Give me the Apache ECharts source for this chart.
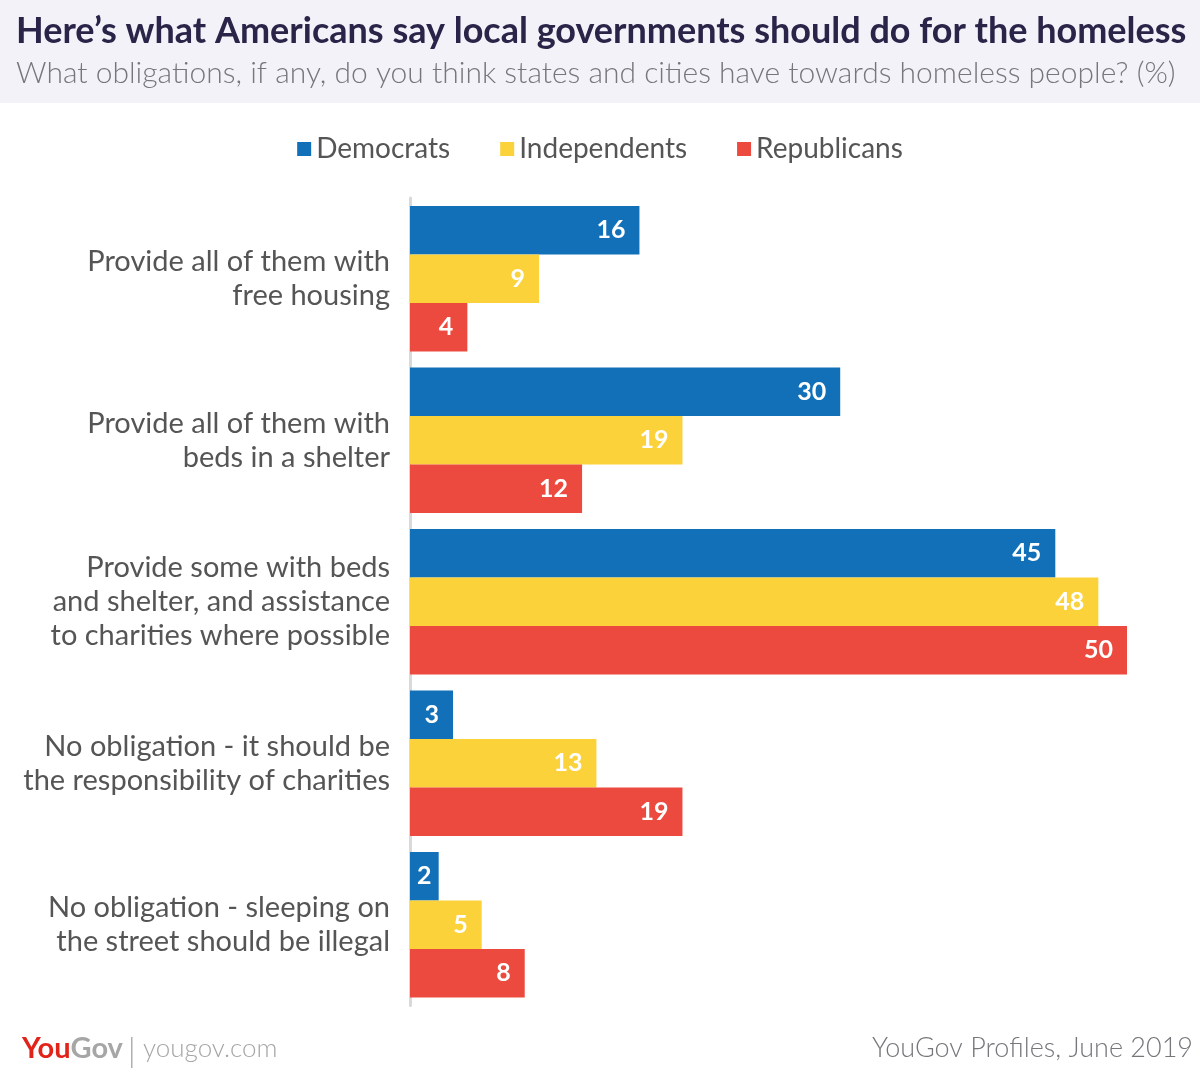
<!DOCTYPE html>
<html><head><meta charset="utf-8">
<script src="https://cdn.jsdelivr.net/npm/echarts@6/dist/echarts.min.js"></script>
<style>html,body{margin:0;padding:0;background:#fff}#c{width:1200px;height:1079px}</style>
</head><body><div id="c"></div>
<script>
const categories = [
  'Provide all of them with\nfree housing',
  'Provide all of them with\nbeds in a shelter',
  'Provide some with beds\nand shelter, and assistance\nto charities where possible',
  'No obligation - it should be\nthe responsibility of charities',
  'No obligation - sleeping on\nthe street should be illegal'
];
const seriesNames = ['Democrats', 'Independents', 'Republicans'];
const democrats = [16, 30, 45, 3, 2];
const independents = [9, 19, 48, 13, 5];
const republicans = [4, 12, 50, 19, 8];
const colors = ['#1170b8', '#fcd23a', '#ec4a3f'];

const chart = echarts.init(document.getElementById('c'));
const labelCfg = {show: true, position: 'insideRight', distance: 14, color: '#fff',
  fontFamily: 'Lato', fontWeight: 'bold', fontSize: 25};
chart.setOption({
  animation: false,
  color: colors,
  graphic: [
    {type: 'rect', left: 0, top: 0, shape: {width: 1200, height: 103}, style: {fill: '#f3f2f9'}, z: -1},
    {type: 'text', left: 16, top: 13, style: {text: 'Here’s what Americans say local governments should do for the homeless',
      font: 'bold 36px Lato', fill: '#2a2548'}},
    {type: 'text', left: 16, top: 58, style: {text: 'What obligations, if any, do you think states and cities have towards homeless people? (%)',
      font: '300 30px Lato', fill: '#77767b'}},
    {type: 'text', left: 22, top: 1034, style: {rich: {a: {fill: '#e2231a', font: 'bold 29px Lato'}, b: {fill: '#a6a6a6', font: 'bold 29px Lato'}},
      text: '{a|You}{b|Gov}'}},
    {type: 'rect', left: 131, top: 1037, shape: {width: 1.5, height: 31}, style: {fill: '#b0b0b0'}},
    {type: 'text', left: 143, top: 1036, style: {text: 'yougov.com', font: '300 26px Lato', fill: '#a6a6a6'}},
    {type: 'text', right: 7, top: 1035, style: {text: 'YouGov Profiles, June 2019', font: '300 27px Lato', fill: '#77767b'}}
  ],
  legend: {
    top: 130, left: 'center', itemWidth: 14, itemHeight: 14, itemGap: 50, icon: 'rect',
    textStyle: {fontFamily: 'Lato', fontSize: 28, color: '#555'},
    data: seriesNames
  },
  grid: {left: 410, right: 73, top: 198, bottom: 73.5, containLabel: false},
  xAxis: {type: 'value', min: 0, max: 50, show: false},
  yAxis: {type: 'category', inverse: true, data: categories,
    axisLine: {show: true, lineStyle: {color: '#d9d9d9', width: 3}},
    axisTick: {show: false},
    axisLabel: {fontFamily: 'Lato', fontSize: 29, color: '#555', lineHeight: 34, margin: 20, align: 'right'}
  },
  labelLayout: function (p) {
    if (p.labelRect && p.rect && p.labelRect.x < p.rect.x + 3) {
      return {x: p.rect.x + p.rect.width / 2, y: p.rect.y + p.rect.height / 2,
        align: 'center', verticalAlign: 'middle'};
    }
  },
  series: [
    {name: seriesNames[0], type: 'bar', data: democrats, barGap: '0%', barCategoryGap: '10%', label: labelCfg},
    {name: seriesNames[1], type: 'bar', data: independents, barGap: '0%', barCategoryGap: '10%', label: labelCfg},
    {name: seriesNames[2], type: 'bar', data: republicans, barGap: '0%', barCategoryGap: '10%', label: labelCfg}
  ]
});
</script></body></html>
